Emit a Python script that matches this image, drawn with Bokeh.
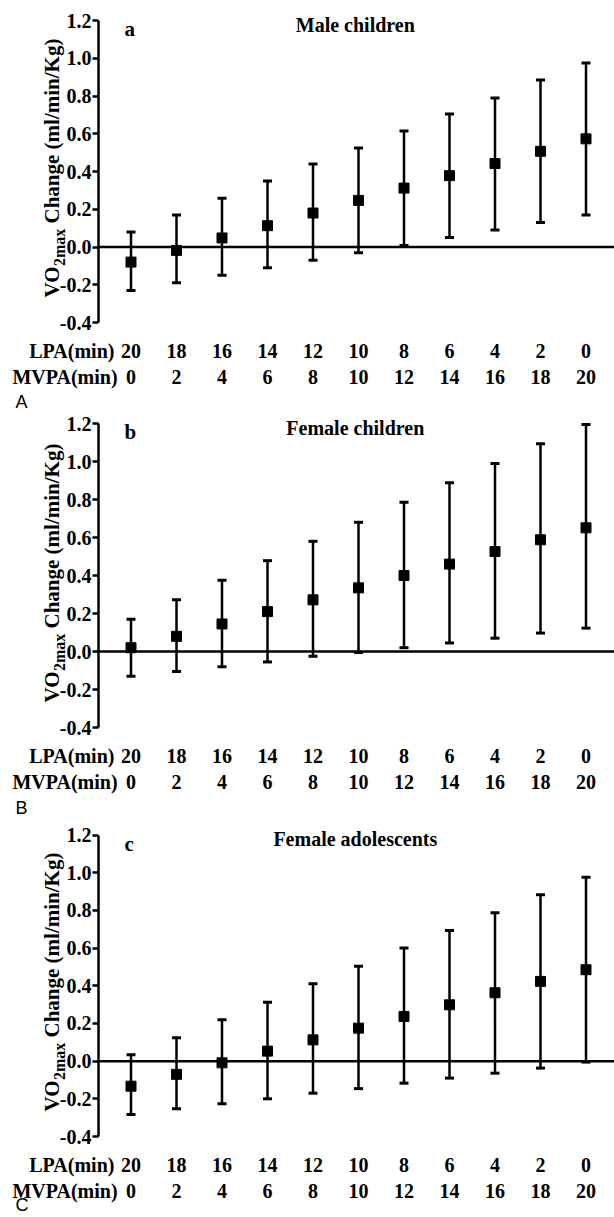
from math import pi
from bokeh.plotting import figure
from bokeh.models import (Range1d, FixedTicker, NumeralTickFormatter, LinearAxis,
                          Whisker, TeeHead, ColumnDataSource)
from bokeh.core.properties import value
from bokeh.layouts import column
from bokeh.embed import file_html
from bokeh.resources import INLINE

# ---------------- data ----------------
lpa_min = [20, 18, 16, 14, 12, 10, 8, 6, 4, 2, 0]
mvpa_min = [0, 2, 4, 6, 8, 10, 12, 14, 16, 18, 20]
row_captions = ["LPA(min)", "MVPA(min)"]
y_ticks = [-0.4, -0.2, 0.0, 0.2, 0.4, 0.6, 0.8, 1.0, 1.2]

panel_tags = ["a", "b", "c"]
panel_titles = ["Male children", "Female children", "Female adolescents"]
panel_letters = ["A", "B", "C"]

male_children_mean = [-0.080, -0.018, 0.048, 0.113, 0.180, 0.247, 0.312, 0.378, 0.442, 0.507, 0.573]
male_children_upper = [0.080, 0.170, 0.258, 0.350, 0.440, 0.525, 0.615, 0.705, 0.790, 0.885, 0.975]
male_children_lower = [-0.230, -0.190, -0.150, -0.110, -0.070, -0.030, 0.008, 0.050, 0.090, 0.130, 0.170]

female_children_mean = [0.020, 0.080, 0.145, 0.210, 0.272, 0.335, 0.400, 0.460, 0.526, 0.588, 0.651]
female_children_upper = [0.170, 0.272, 0.375, 0.478, 0.580, 0.680, 0.785, 0.888, 0.990, 1.093, 1.195]
female_children_lower = [-0.130, -0.105, -0.080, -0.055, -0.025, -0.005, 0.020, 0.045, 0.070, 0.097, 0.123]

female_adol_mean = [-0.133, -0.070, -0.009, 0.053, 0.113, 0.175, 0.237, 0.299, 0.363, 0.423, 0.485]
female_adol_upper = [0.034, 0.124, 0.220, 0.313, 0.410, 0.504, 0.600, 0.693, 0.787, 0.883, 0.976]
female_adol_lower = [-0.283, -0.253, -0.226, -0.200, -0.170, -0.146, -0.117, -0.090, -0.064, -0.037, -0.005]

series = [
    (male_children_mean, male_children_lower, male_children_upper),
    (female_children_mean, female_children_lower, female_children_upper),
    (female_adol_mean, female_adol_lower, female_adol_upper),
]

# ---------------- layout / style ----------------
SERIF = "Liberation Serif"
SANS = "Liberation Sans"
FIG_W = 614
X_FIRST = 130.5     # px of first category
X_STEP = 45.5
AXIS_PX = 98        # px of y axis line
CAPTION_X = [-1.30, -1.45]   # data x of the row captions


def xd(px):
    return (px - X_FIRST) / X_STEP


# (figure height, px above 1.2, px for the 1.6 span, px of letter below -0.4)
geoms = [(411, 20.0, 302.0, 79), (411, 12.0, 304.0, 80), (394, 12.5, 301.5, 68)]


def make_panel(k):
    height, above, span_px, letter_px = geoms[k]
    scale = span_px / 1.6
    below = height - above - span_px
    mean, lower, upper = series[k]
    p = figure(width=FIG_W, height=height,
               x_range=Range1d(xd(0), xd(FIG_W)),
               y_range=Range1d(-0.4 - below / scale, 1.2 + above / scale),
               output_backend="svg", toolbar_location=None,
               min_border_left=0, min_border_right=0, min_border_top=0,
               min_border_bottom=0,
               outline_line_color=None, background_fill_color="white")
    p.xgrid.visible = False
    p.ygrid.visible = False

    # y axis placed at the axis line position
    yax = p.yaxis[0]
    yax.fixed_location = xd(AXIS_PX)
    yax.ticker = FixedTicker(ticks=y_ticks, minor_ticks=[])
    yax.formatter = NumeralTickFormatter(format="0.0")
    yax.bounds = (-0.4, 1.2)
    yax.axis_line_width = 2.5
    yax.axis_line_color = "black"
    yax.major_tick_line_width = 2.5
    yax.major_tick_line_color = "black"
    yax.major_tick_out = 6
    yax.major_tick_in = 0
    yax.minor_tick_line_color = None
    yax.major_label_standoff = 1
    yax.major_label_text_font = SERIF
    yax.major_label_text_font_style = "bold"
    yax.major_label_text_font_size = "20px"
    yax.major_label_text_color = "black"

    # x axes: LPA row and MVPA row
    def style_x(ax, labels, caption, cap_x, standoff):
        ticks = [cap_x] + list(range(len(labels)))
        ax.fixed_location = -0.4
        ax.ticker = FixedTicker(ticks=ticks, minor_ticks=[])
        ov = {i: str(v) for i, v in enumerate(labels)}
        ov[cap_x] = caption
        ax.major_label_overrides = ov
        ax.axis_line_color = None
        ax.major_tick_line_color = None
        ax.minor_tick_line_color = None
        ax.major_tick_out = 0
        ax.major_tick_in = 0
        ax.major_label_standoff = standoff
        ax.major_label_text_font = SERIF
        ax.major_label_text_font_style = "bold"
        ax.major_label_text_font_size = "20px"
        ax.major_label_text_color = "black"

    style_x(p.xaxis[0], lpa_min, row_captions[0], CAPTION_X[0], 17)
    ax2 = LinearAxis()
    style_x(ax2, mvpa_min, row_captions[1], CAPTION_X[1], 43)
    p.add_layout(ax2, "below")

    # zero reference line, from the y axis to the right edge
    p.segment(x0=[xd(AXIS_PX)], x1=[xd(FIG_W)], y0=[0.0], y1=[0.0],
              line_color="black", line_width=2.5, level="underlay")

    src = ColumnDataSource(dict(x=list(range(len(mean))), mean=mean, lower=lower, upper=upper))
    p.add_layout(Whisker(source=src, base="x", lower="lower", upper="upper",
                         line_color="black", line_width=2.5,
                         upper_head=TeeHead(size=9, line_width=3, line_color="black"),
                         lower_head=TeeHead(size=9, line_width=3, line_color="black")))
    p.scatter("x", "mean", source=src, marker="square", size=10,
              fill_color="black", line_color="black")

    def lab(x, y, text, size="20px", font=SERIF, style="bold", align="left",
            angle=0.0):
        p.text(x=[x], y=[y], text=[text], text_font=value(font), text_font_style=style,
               text_font_size=size, text_color="black", text_align=align,
               text_baseline="middle", angle=angle)

    # panel tag + title
    lab(xd(124), 1.2 - 8.5 / scale, panel_tags[k], size="21px")
    lab(4.93, 1.2 - 4 / scale, panel_titles[k], align="center")

    # panel letter
    lab(xd(15), -0.4 - letter_px / scale, panel_letters[k], size="18px", font=SANS,
        style="normal")

    # rotated y-axis title with subscript
    bx = xd(51.4)
    lab(bx, -0.4 + 25 / scale, "VO", size="21px", angle=pi / 2)
    lab(xd(58.6), -0.4 + 56.5 / scale, "2max", size="16px", angle=pi / 2)
    lab(bx, -0.4 + 99 / scale, "Change (ml/min/Kg)", size="21px", angle=pi / 2)
    return p


layout = column(*[make_panel(k) for k in range(3)])
open("out.html", "w").write(file_html(layout, INLINE))
